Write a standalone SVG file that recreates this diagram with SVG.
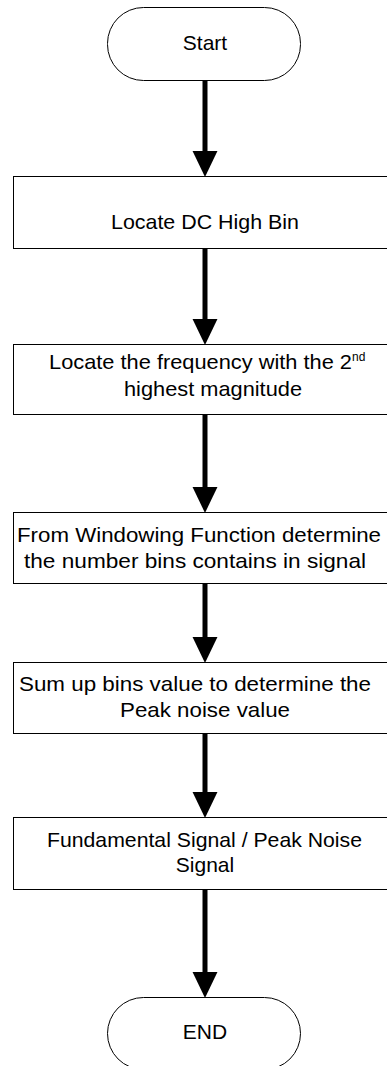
<svg xmlns="http://www.w3.org/2000/svg" width="387" height="1066" viewBox="0 0 387 1066">
<style>
.n{fill:#fff;stroke:#000;stroke-width:1}
.t{font-family:"Liberation Sans",Arial,sans-serif;font-size:21px;fill:#000;text-anchor:middle}
.s{text-anchor:start}
.sup{font-size:12px}
.c{stroke:#000;stroke-width:5;fill:none}
</style>
<defs>
<marker id="ah" markerUnits="userSpaceOnUse" markerWidth="26" markerHeight="26" viewBox="0 0 25 24" refX="1" refY="12" orient="auto">
<path d="M0,0 L25,12 L0,24 Z" fill="#000"/>
</marker>
</defs>
<rect width="387" height="1066" fill="#fff"/>
<g id="connectors">
<line class="c" x1="205" y1="80" x2="205" y2="152" marker-end="url(#ah)"/>
<line class="c" x1="205" y1="248" x2="205" y2="320" marker-end="url(#ah)"/>
<line class="c" x1="205" y1="415" x2="205" y2="488" marker-end="url(#ah)"/>
<line class="c" x1="205" y1="584" x2="205" y2="638" marker-end="url(#ah)"/>
<line class="c" x1="205" y1="733" x2="205" y2="793" marker-end="url(#ah)"/>
<line class="c" x1="205" y1="889" x2="205" y2="973" marker-end="url(#ah)"/>
</g>
<g id="start">
<rect class="n" x="107.5" y="7.5" width="193" height="73" rx="36" ry="36"/>
<text class="t" x="205" y="50">Start</text>
</g>
<g id="step1">
<rect class="n" x="13.5" y="176.5" width="390" height="72"/>
<text class="t" x="205" y="229" textLength="188" lengthAdjust="spacingAndGlyphs">Locate DC High Bin</text>
</g>
<g id="step2">
<rect class="n" x="13.5" y="344.5" width="390" height="70"/>
<text class="t s" x="49" y="369" textLength="303" lengthAdjust="spacingAndGlyphs">Locate the frequency with the 2</text>
<text class="t s sup" x="352" y="361">nd</text>
<text class="t" x="213" y="396" textLength="178" lengthAdjust="spacingAndGlyphs">highest magnitude</text>
</g>
<g id="step3">
<rect class="n" x="13.5" y="512.5" width="390" height="71"/>
<text class="t" x="199" y="542" textLength="364" lengthAdjust="spacingAndGlyphs">From Windowing Function determine</text>
<text class="t" x="195" y="568" textLength="342" lengthAdjust="spacingAndGlyphs">the number bins contains in signal</text>
</g>
<g id="step4">
<rect class="n" x="13.5" y="662.5" width="390" height="71"/>
<text class="t" x="195" y="691" textLength="352" lengthAdjust="spacingAndGlyphs">Sum up bins value to determine the</text>
<text class="t" x="205" y="717" textLength="170" lengthAdjust="spacingAndGlyphs">Peak noise value</text>
</g>
<g id="step5">
<rect class="n" x="13.5" y="817.5" width="390" height="72"/>
<text class="t" x="204.5" y="847" textLength="315" lengthAdjust="spacingAndGlyphs">Fundamental Signal / Peak Noise</text>
<text class="t" x="205" y="872">Signal</text>
</g>
<g id="end">
<rect class="n" x="107.5" y="997.5" width="193" height="72" rx="36" ry="36"/>
<text class="t" x="205" y="1039">END</text>
</g>
</svg>
